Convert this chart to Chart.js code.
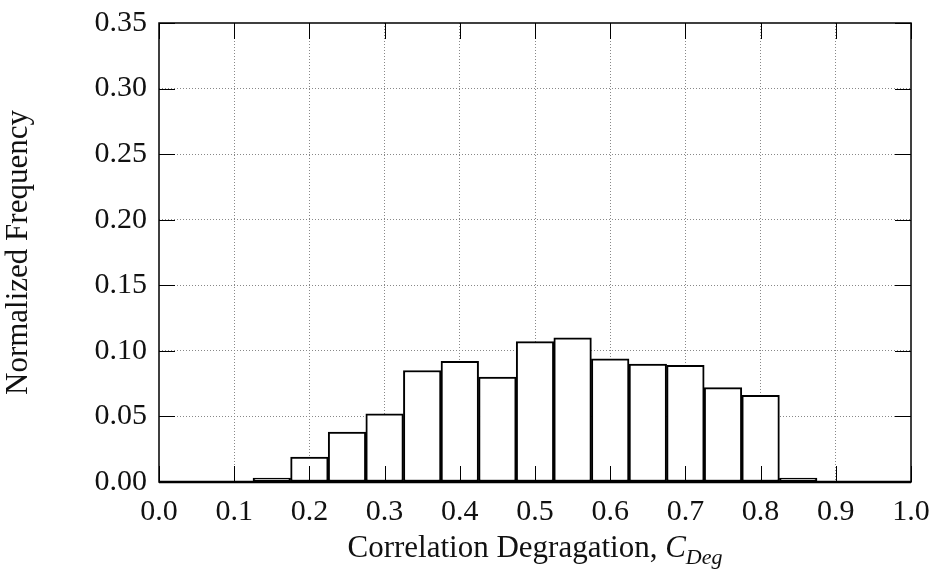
<!DOCTYPE html>
<html>
<head>
<meta charset="utf-8">
<script src="https://cdn.jsdelivr.net/npm/chart.js@4.4.0/dist/chart.umd.min.js"></script>
<style>
  html, body { margin: 0; padding: 0; background: #fff; }
  #wrap { width: 938px; height: 576px; }
</style>
</head>
<body>
<div id="wrap"><canvas id="chart" width="938" height="576"></canvas></div>
<script>
// histogram bins (centres), bin width 0.05
const binCenters = [0.00, 0.05, 0.10, 0.15, 0.20, 0.25, 0.30, 0.35, 0.40, 0.45, 0.50,
                    0.55, 0.60, 0.65, 0.70, 0.75, 0.80, 0.85, 0.90, 0.95, 1.00];
const frequency  = [0, 0, 0, 0.003, 0.019, 0.038, 0.052, 0.085, 0.092, 0.080, 0.107,
                    0.110, 0.094, 0.090, 0.089, 0.072, 0.066, 0.003, 0, 0, 0];
const xTicks = [0.0, 0.1, 0.2, 0.3, 0.4, 0.5, 0.6, 0.7, 0.8, 0.9, 1.0];
const yTicks = [0.00, 0.05, 0.10, 0.15, 0.20, 0.25, 0.30, 0.35];

const serif = "'Liberation Serif', 'DejaVu Serif', serif";
const fontSize = 30;

// frame, inward tick marks and x title with subscript
const framePlugin = {
  id: 'frame',
  afterDraw(chart) {
    const ctx = chart.ctx;
    const a = chart.chartArea;
    const xs = chart.scales.x, ys = chart.scales.y;
    ctx.save();
    ctx.strokeStyle = '#000';
    ctx.lineWidth = 1;
    xTicks.forEach(v => {
      const px = Math.round(xs.getPixelForValue(v)) + 0.5;
      ctx.beginPath();
      ctx.moveTo(px, a.bottom); ctx.lineTo(px, a.bottom - 16);
      ctx.moveTo(px, a.top); ctx.lineTo(px, a.top + 16);
      ctx.stroke();
    });
    yTicks.forEach(v => {
      const py = Math.round(ys.getPixelForValue(v)) + 0.5;
      ctx.beginPath();
      ctx.moveTo(a.left, py); ctx.lineTo(a.left + 16, py);
      ctx.moveTo(a.right, py); ctx.lineTo(a.right - 16, py);
      ctx.stroke();
    });
    ctx.lineWidth = 1.5;
    ctx.strokeRect(a.left, a.top, a.right - a.left, a.bottom - a.top);
    ctx.lineWidth = 2.5;
    ctx.beginPath();
    ctx.moveTo(a.left, a.bottom); ctx.lineTo(a.right, a.bottom);
    ctx.stroke();

    // x axis title
    const main = 'Correlation Degragation, ';
    const big = 31, small = 22;
    ctx.fillStyle = '#111';
    ctx.textBaseline = 'alphabetic';
    ctx.font = big + 'px ' + serif;
    const w1 = ctx.measureText(main).width;
    ctx.font = 'italic ' + big + 'px ' + serif;
    const w2 = ctx.measureText('C').width;
    ctx.font = 'italic ' + small + 'px ' + serif;
    const w3 = ctx.measureText('Deg').width;
    const total = w1 + w2 + w3;
    const cx = (a.left + a.right) / 2;
    const x0 = cx - total / 2;
    const base = 557;
    ctx.textAlign = 'left';
    ctx.font = big + 'px ' + serif;
    ctx.fillText(main, x0, base);
    ctx.font = 'italic ' + big + 'px ' + serif;
    ctx.fillText('C', x0 + w1, base);
    ctx.font = 'italic ' + small + 'px ' + serif;
    ctx.fillText('Deg', x0 + w1 + w2, base + 7);
    ctx.restore();
  }
};

new Chart(document.getElementById('chart'), {
  type: 'bar',
  data: {
    datasets: [{
      data: binCenters.map((c, i) => ({ x: c, y: frequency[i] })),
      backgroundColor: '#fff',
      borderColor: '#000',
      borderWidth: 2,
      borderSkipped: false,
      barPercentage: 1,
      categoryPercentage: 1
    }]
  },
  options: {
    responsive: false,
    animation: false,
    layout: { padding: { top: 23, right: 27, left: 0, bottom: 0 } },
    plugins: { legend: { display: false }, tooltip: { enabled: false } },
    scales: {
      x: {
        type: 'linear',
        offset: false,
        min: 0, max: 1,
        afterFit(s) { s.height = 94; s.paddingLeft = 0; s.paddingRight = 0; },
        afterBuildTicks(s) { s.ticks = xTicks.map(v => ({ value: v })); },
        ticks: {
          color: '#111',
          font: { family: serif, size: fontSize },
          padding: 12,
          callback: v => v.toFixed(1)
        },
        grid: {
          offset: false,
          color: c => (c.tick && (c.tick.value <= 0 || c.tick.value >= 1)) ? 'rgba(0,0,0,0)' : '#888',
          lineWidth: 1,
          drawTicks: false
        },
        border: { display: false, dash: [1, 2] }
      },
      y: {
        min: 0, max: 0.35,
        afterFit(s) { s.width = 159; s.paddingTop = 0; s.paddingBottom = 0; },
        afterBuildTicks(s) { s.ticks = yTicks.map(v => ({ value: v })); },
        ticks: {
          color: '#111',
          font: { family: serif, size: fontSize },
          padding: 12,
          callback: v => v.toFixed(2)
        },
        title: {
          display: true,
          text: 'Normalized Frequency',
          color: '#111',
          font: { family: serif, size: 31 },
          padding: { top: 0, bottom: 4 }
        },
        grid: {
          color: c => (c.tick && (c.tick.value <= 0 || c.tick.value >= 0.35)) ? 'rgba(0,0,0,0)' : '#888',
          lineWidth: 1,
          drawTicks: false
        },
        border: { display: false, dash: [1, 2] }
      }
    }
  },
  plugins: [framePlugin]
});
</script>
</body>
</html>
